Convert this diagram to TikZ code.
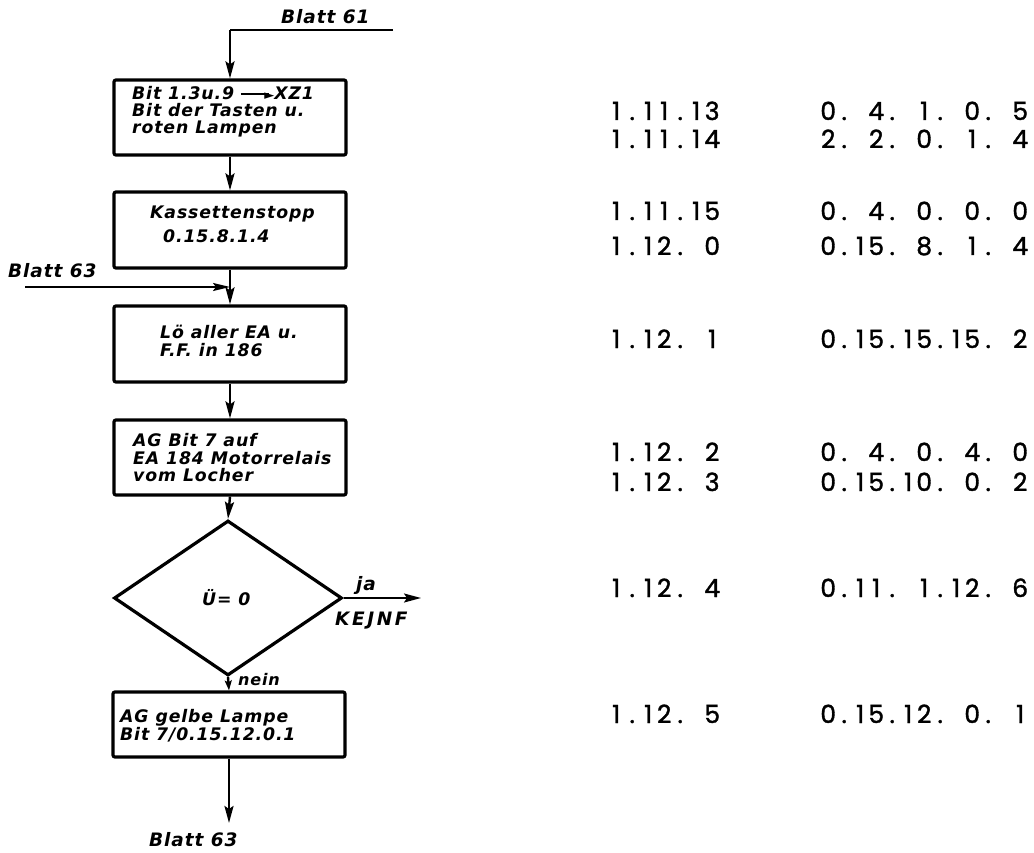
\documentclass[tikz,border=0pt]{standalone}
\usepackage{fontspec}
\setmainfont{DejaVu Sans}
\newfontfamily\lfont[LetterSpace=5]{DejaVu Sans}
\newfontfamily\numfont[FakeBold=1.4]{Poppins}
\usetikzlibrary{arrows.meta,shapes.geometric}
\makeatletter
\newcommand\mono[1]{\mono@#1\mono@end}
\def\mono@end{\mono@end}
\def\mono@#1{\ifx#1\mono@end\else\makebox[16pt][c]{#1}\expandafter\mono@\fi}
\makeatother
\tikzset{
  box/.style={draw, line width=3.2pt, rounded corners=2pt, minimum width=232pt, inner sep=0pt},
  lbl/.style={font=\fontsize{18.5}{18.5}\selectfont\lfont\bfseries\itshape, inner sep=0pt, anchor=west},
  boxtxt/.style={font=\fontsize{17.3}{18}\selectfont\lfont\bfseries\itshape, align=left, inner sep=0pt, anchor=west},
  conn/.style={line width=2.4pt, -{Stealth[length=17pt,width=9pt,inset=3pt]}},
  thinln/.style={line width=1.8pt},
  num/.style={font=\fontsize{25}{25}\selectfont\numfont, inner sep=0pt, anchor=base west},
}
\begin{document}
\begin{tikzpicture}[x=1pt,y=-1pt]
\useasboundingbox (0,0) rectangle (1034,853);
% boxes
\node[box, minimum height=75pt] (b1) at (230,117.5) {};
\node[box, minimum height=76pt] (b2) at (230,230) {};
\node[box, minimum height=76pt] (b3) at (230,344) {};
\node[box, minimum height=75pt] (b4) at (230,457.5) {};
\node[draw, diamond, line width=3.2pt, minimum width=228pt, minimum height=155pt, inner sep=0pt] (d) at (228,598) {};
\node[box, minimum height=65pt] (b5) at (229,724.5) {};
% box texts
\node[boxtxt, font=\fontsize{17.3}{17}\selectfont\lfont\bfseries\itshape] (t1) at (132,112) {Bit 1.3u.9 \rule[0.3em]{1.6em}{1.8pt}\kern-0.25em{\fontsize{13}{13}\selectfont\normalfont ►}XZ1\\Bit der Tasten u.\\roten Lampen};
\node[boxtxt, font=\fontsize{17.3}{24}\selectfont\lfont\bfseries\itshape] (t2) at (150,224) {Kassettenstopp\\\hspace*{13pt}0.15.8.1.4};
\node[boxtxt] (t3) at (160,341) {Lö aller EA u.\\F.F. in 186};
\node[boxtxt, font=\fontsize{17.3}{17.5}\selectfont\lfont\bfseries\itshape] (t4) at (133,458) {AG Bit 7 auf\\EA 184 Motorrelais\\vom Locher};
\node[boxtxt] (t5) at (120,726) {AG gelbe Lampe\\Bit 7/0.15.12.0.1};
\node[boxtxt] (t6) at (202,598) {Ü= 0};
% labels
\node[lbl] (l61) at (281,17) {Blatt 61};
\node[lbl] (l63a) at (8,271) {Blatt 63};
\node[lbl] (lja) at (356,585) {ja};
\node[lbl, font=\fontsize{18.5}{18.5}\selectfont\lfont\bfseries\itshape\addfontfeature{LetterSpace=14}] (lkej) at (335,621) {KEJNF};
\node[lbl, font=\fontsize{16}{16}\selectfont\lfont\bfseries\itshape] (lnein) at (238,680) {nein};
\node[lbl] (l63b) at (149,840) {Blatt 63};
% connector coordinates
\coordinate (s61) at (393,30);
\coordinate (k61) at (230,30);
\coordinate (s63) at (25,287);
\coordinate (m63) at (230,287);
\coordinate (eja) at (421,598);
\coordinate (e63) at (229,823);
% connectors
\draw[thinln] (s61) -- (k61);
\draw[conn] (k61) -- (b1.north);
\draw[conn] (b1.south) -- (b2.north);
\draw[conn] (b2.south) -- (b3.north);
\draw[thinln, -{Stealth[length=17pt,width=8pt,inset=3pt]}] (s63) -- (m63);
\draw[conn] (b3.south) -- (b4.north);
\draw[conn] (b4.south) -- (d.north);
\draw[conn, line width=1.8pt] (d.east) -- (eja);
\draw[conn, -{Stealth[length=10pt,width=7pt,inset=2pt]}] (d.south) -- (b5.north);
\draw[conn] (b5.south) -- (e63);
% number columns
\node[num] (r1a) at (608,120) {\mono{1.11.13}};
\node[num] (r1b) at (820,120) {\mono{0.~4.~1.~0.~5}};
\node[num] (r2a) at (608,148) {\mono{1.11.14}};
\node[num] (r2b) at (820,148) {\mono{2.~2.~0.~1.~4}};
\node[num] (r3a) at (608,220) {\mono{1.11.15}};
\node[num] (r3b) at (820,220) {\mono{0.~4.~0.~0.~0}};
\node[num] (r4a) at (608,255) {\mono{1.12.~0}};
\node[num] (r4b) at (820,255) {\mono{0.15.~8.~1.~4}};
\node[num] (r5a) at (608,348) {\mono{1.12.~1}};
\node[num] (r5b) at (820,348) {\mono{0.15.15.15.~2}};
\node[num] (r6a) at (608,461) {\mono{1.12.~2}};
\node[num] (r6b) at (820,461) {\mono{0.~4.~0.~4.~0}};
\node[num] (r7a) at (608,491) {\mono{1.12.~3}};
\node[num] (r7b) at (820,491) {\mono{0.15.10.~0.~2}};
\node[num] (r8a) at (608,597) {\mono{1.12.~4}};
\node[num] (r8b) at (820,597) {\mono{0.11.~1.12.~6}};
\node[num] (r9a) at (608,723) {\mono{1.12.~5}};
\node[num] (r9b) at (820,723) {\mono{0.15.12.~0.~1}};
\end{tikzpicture}
\end{document}
